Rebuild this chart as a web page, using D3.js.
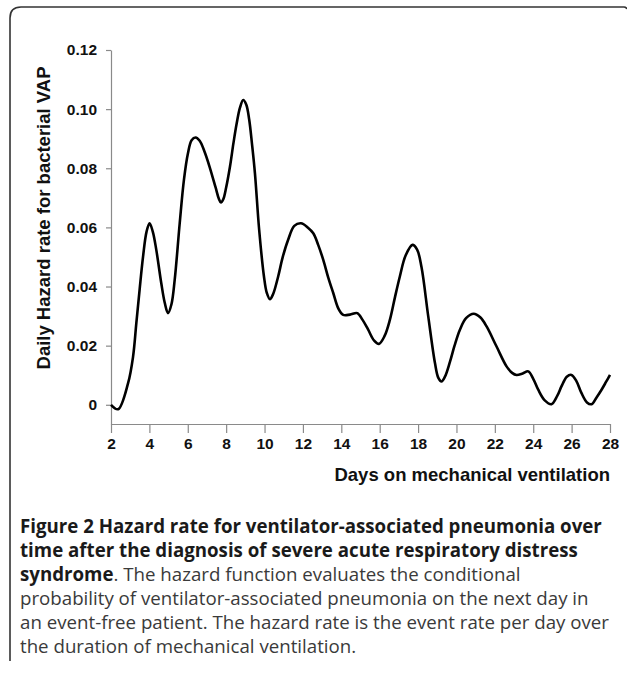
<!DOCTYPE html>
<html>
<head>
<meta charset="utf-8">
<script src="https://cdn.jsdelivr.net/npm/d3@7"></script>
<style>
	html, body { margin: 0; padding: 0; background: #fff; }
	svg { display: block; }
</style>
</head>
<body>
<div id="chart"></div>
<script>

	// days on mechanical ventilation
	var days = [
		2, 2.37, 2.89, 3.15, 3.32, 3.49, 3.67, 3.85, 4.01, 4.18, 4.36, 4.62, 4.8, 4.97,
		5.15, 5.32, 5.58, 5.80, 6.01, 6.2, 6.41, 6.62, 6.88, 7.16, 7.45, 7.62, 7.73, 7.85,
		8.0, 8.2, 8.38, 8.55, 8.72, 8.89, 9.05, 9.2, 9.35, 9.5, 9.72, 9.97, 10.12, 10.28,
		10.45, 10.71, 10.95, 11.23, 11.55, 11.9, 12.25, 12.54, 12.8, 13.06, 13.32, 13.58,
		13.85, 14.1, 14.45, 14.83, 15.1, 15.4, 15.7, 15.96, 16.25, 16.53, 16.8, 17.05,
		17.35, 17.71, 17.95, 18.18, 18.53, 18.88, 19.05, 19.22, 19.4, 19.66, 19.9, 20.18,
		20.5, 20.9, 21.25, 21.57, 22.09, 22.61, 22.9, 23.13, 23.45, 23.74, 24.0, 24.26,
		24.6, 24.95, 25.25, 25.47, 25.75, 25.99, 26.25, 26.51, 26.8, 27.04, 27.3, 27.56,
		27.8, 28
	];

	// daily hazard rate for bacterial VAP
	var hazard = [
		0, -0.0015, 0.0073, 0.0163, 0.0276, 0.0389, 0.0501, 0.0585, 0.0614, 0.0585, 0.0524, 0.0411, 0.0345, 0.031,
		0.034, 0.0423, 0.0614, 0.0761, 0.0851, 0.0895, 0.0904, 0.0893, 0.0855, 0.08, 0.0735, 0.0697, 0.0684, 0.0695,
		0.0735, 0.0806, 0.0885, 0.0952, 0.1005, 0.1031, 0.1015, 0.0965, 0.088, 0.0783, 0.0592, 0.0434, 0.0378, 0.0357,
		0.0375, 0.0434, 0.05, 0.0558, 0.0605, 0.0614, 0.06, 0.058, 0.054, 0.049, 0.043, 0.0378,
		0.0325, 0.0304, 0.0305, 0.031, 0.0288, 0.0254, 0.0218, 0.0206, 0.0232, 0.0287, 0.0365, 0.0434,
		0.0505, 0.0541, 0.0525, 0.0465, 0.0299, 0.0141, 0.0092, 0.0079, 0.0095, 0.0145, 0.02, 0.0254,
		0.0293, 0.0308, 0.0295, 0.0265, 0.0197, 0.013, 0.0108, 0.0101, 0.0106, 0.0113, 0.0088, 0.0051,
		0.0015, 0.0002, 0.003, 0.0062, 0.0095, 0.0101, 0.008, 0.004, 0.0008, 0.0002, 0.0025, 0.0051,
		0.0078, 0.0101
	];

	var xTicks = [2, 4, 6, 8, 10, 12, 14, 16, 18, 20, 22, 24, 26, 28];
	var yTicks = [0, 0.02, 0.04, 0.06, 0.08, 0.10, 0.12];
	var yTickLabels = ["0", "0.02", "0.04", "0.06", "0.08", "0.10", "0.12"];

	var yTitle = "Daily Hazard rate for bacterial VAP";
	var xTitle = "Days on mechanical ventilation";

	// caption lines: [bold part, regular part]
	var caption = [
		["Figure 2 Hazard rate for ventilator-associated pneumonia over", ""],
		["time after the diagnosis of severe acute respiratory distress", ""],
		["syndrome", ". The hazard function evaluates the conditional"],
		["", "probability of ventilator-associated pneumonia on the next day in"],
		["", "an event-free patient. The hazard rate is the event rate per day over"],
		["", "the duration of mechanical ventilation."]
	];

	var
		width = 627,
		height = 674,

		svg = d3.select("#chart")
			.append("svg")
			.attr("width", width)
			.attr("height", height),

		x = d3.scaleLinear()
			.domain([2, 28])
			.range([111, 610]),

		// domain reaches a little below 0 so the y axis meets the x axis
		y = d3.scaleLinear()
			.domain([-0.0065, 0.12])
			.range([424, 50]),

		data = days.map((d, i) => ({day: d, value: hazard[i]}));

	// frame (top and left edge with a rounded corner)
	svg.append("path")
		.attr("d", "M10,661 V18 Q10,7 21,7 H624 Q626,7 627,9")
		.attr("fill", "none")
		.attr("stroke", "#333")
		.attr("stroke-width", 1.6);

	// y axis
	svg.append("g")
		.attr("transform", "translate(" + x(2) + ",0)")
		.call(d3.axisLeft(y)
			.tickValues(yTicks)
			.tickFormat((d, i) => yTickLabels[i])
			.tickSize(5)
			.tickSizeOuter(0)
			.tickPadding(9));

	// x axis
	svg.append("g")
		.attr("transform", "translate(0," + y.range()[0] + ")")
		.call(d3.axisBottom(x)
			.tickValues(xTicks)
			.tickSize(9)
			.tickSizeOuter(0)
			.tickPadding(5));

	svg.selectAll(".domain, .tick line")
		.attr("stroke", "#8a8a8a")
		.attr("stroke-width", 1.2);

	svg.selectAll(".tick text")
		.attr("fill", "#111")
		.style("font-family", "'Liberation Sans', Arial, sans-serif")
		.style("font-weight", "bold")
		.style("font-size", "15.5px");

	// axis titles
	svg.append("text")
		.attr("transform", "translate(50,218) rotate(-90)")
		.attr("text-anchor", "middle")
		.style("font-family", "'Liberation Sans', Arial, sans-serif")
		.style("font-weight", "bold")
		.style("font-size", "18.5px")
		.attr("fill", "#111")
		.text(yTitle);

	svg.append("text")
		.attr("x", 610)
		.attr("y", 481)
		.attr("text-anchor", "end")
		.style("font-family", "'Liberation Sans', Arial, sans-serif")
		.style("font-weight", "bold")
		.style("font-size", "18.5px")
		.attr("fill", "#111")
		.text(xTitle);

	// hazard curve
	var line = d3.line()
		.x(d => x(d.day))
		.y(d => y(d.value))
		.curve(d3.curveCatmullRom.alpha(0.5));

	svg.append("path")
		.datum(data)
		.attr("d", line)
		.attr("fill", "none")
		.attr("stroke", "#000")
		.attr("stroke-width", 2.6)
		.attr("stroke-linejoin", "round");

	// caption
	var cap = svg.append("g")
		.style("font-family", "'Open Sans', sans-serif")
		.style("font-size", "18.7px");

	cap.selectAll("text")
		.data(caption)
		.join("text")
		.attr("x", 20)
		.attr("y", (d, i) => 533 + i * 24)
		.each(function(d){
			var t = d3.select(this);
			if (d[0]) {
				t.append("tspan")
					.style("font-weight", "bold")
					.attr("fill", "#1a1a1a")
					.text(d[0]);
			}
			if (d[1]) {
				t.append("tspan")
					.attr("fill", "#3a3a3a")
					.text(d[1]);
			}
		});

</script>
</body>
</html>
